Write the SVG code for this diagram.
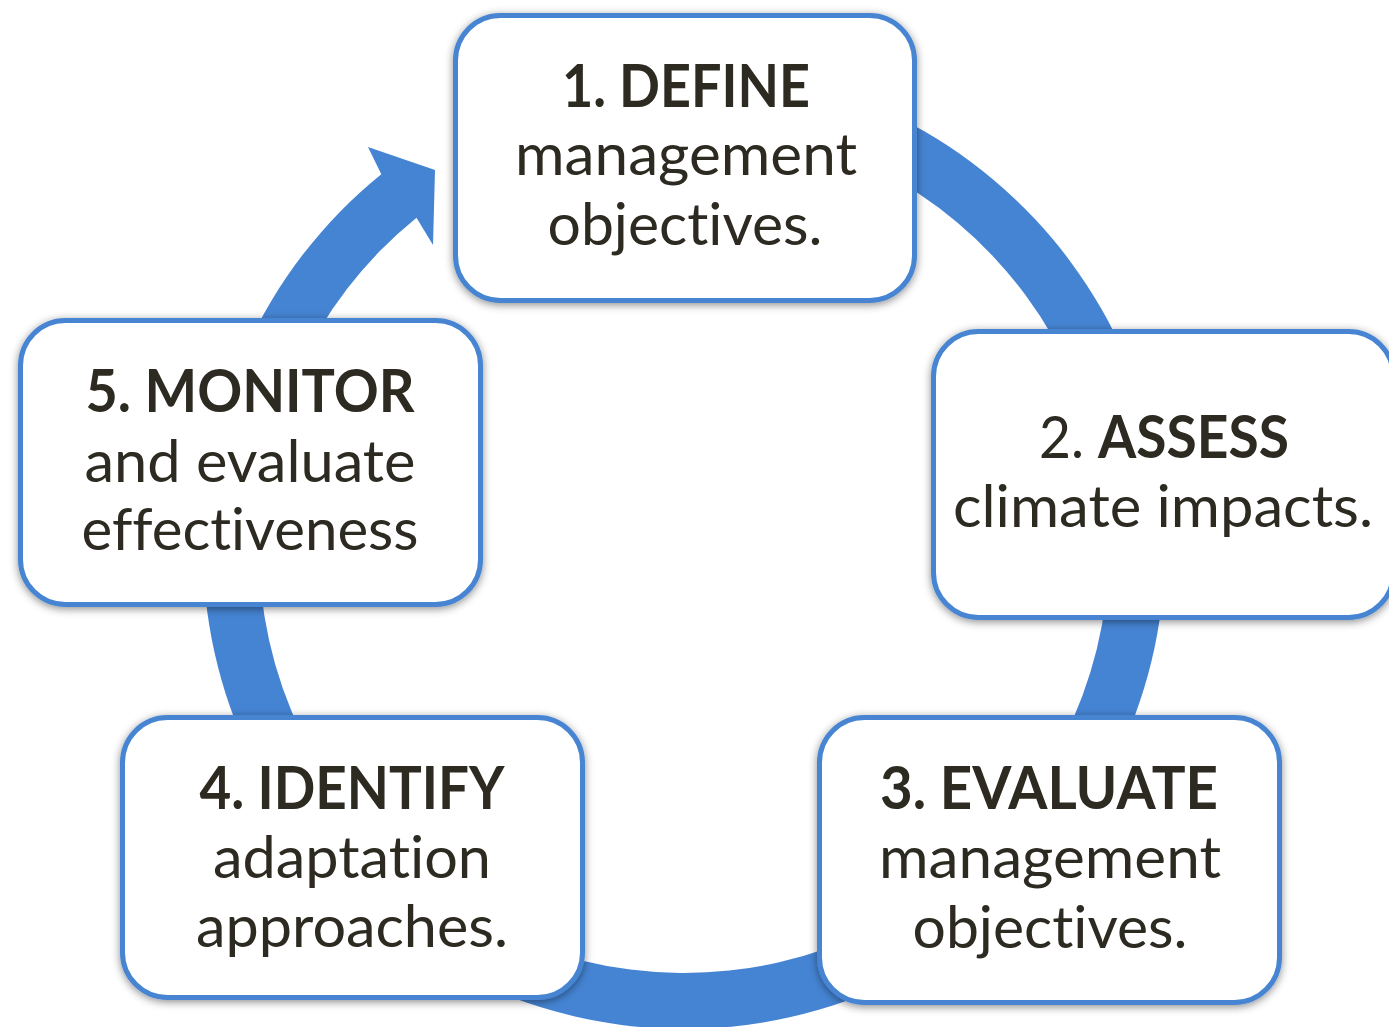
<svg xmlns="http://www.w3.org/2000/svg" width="1389" height="1027" viewBox="0 0 1389 1027">
<defs>
<filter id="sh" x="-10%" y="-10%" width="120%" height="125%">
<feDropShadow dx="0" dy="2" stdDeviation="4" flood-color="#000" flood-opacity="0.45"/>
</filter>
</defs>
<style>
.box{fill:#fff;stroke:#4685D3;stroke-width:5;filter:url(#sh)}
.ring{fill:#4584D3}
text{font-family:Lato,"Liberation Sans",sans-serif;fill:#2D2A21;text-anchor:middle;font-size:59px;font-variant-ligatures:none;font-feature-settings:"liga" 0,"clig" 0}
.b{font-weight:bold}
</style>
<rect width="1389" height="1027" fill="#fff"/>
<g id="connectors">
<path class="ring" d="M684,67 A481,481 0 1 1 381.3,174.2 L368,147 L435,170 L433,245 L416.5,217.7 A425,425 0 1 0 684,123 Z"/>
</g>
<g id="node1">
<rect class="box" x="455.5" y="15.5" width="459" height="285" rx="45"/>
<text class="b" x="686" y="107" textLength="248" lengthAdjust="spacingAndGlyphs">1. DEFINE</text>
<text x="686" y="175" textLength="342" lengthAdjust="spacingAndGlyphs">management</text>
<text x="685" y="245" textLength="275" lengthAdjust="spacingAndGlyphs">objectives.</text>
</g>
<g id="node2">
<rect class="box" x="933.5" y="331.5" width="460" height="286" rx="45"/>
<text x="1164" y="458" textLength="250" lengthAdjust="spacingAndGlyphs">2. <tspan class="b">ASSESS</tspan></text>
<text x="1163" y="527" textLength="420" lengthAdjust="spacingAndGlyphs">climate impacts.</text>
</g>
<g id="node3">
<rect class="box" x="819.5" y="717.5" width="460" height="285" rx="45"/>
<text class="b" x="1049" y="809" textLength="338" lengthAdjust="spacingAndGlyphs">3. EVALUATE</text>
<text x="1050" y="878" textLength="342" lengthAdjust="spacingAndGlyphs">management</text>
<text x="1050" y="948" textLength="275" lengthAdjust="spacingAndGlyphs">objectives.</text>
</g>
<g id="node4">
<rect class="box" x="122.5" y="717.5" width="460" height="280" rx="45"/>
<text class="b" x="352" y="809" textLength="305" lengthAdjust="spacingAndGlyphs">4. IDENTIFY</text>
<text x="352" y="878" textLength="278" lengthAdjust="spacingAndGlyphs">adaptation</text>
<text x="352" y="947" textLength="312" lengthAdjust="spacingAndGlyphs">approaches.</text>
</g>
<g id="node5">
<rect class="box" x="20.5" y="320.5" width="460" height="284" rx="45"/>
<text class="b" x="250" y="412" textLength="329" lengthAdjust="spacingAndGlyphs">5. MONITOR</text>
<text x="250" y="482" textLength="331" lengthAdjust="spacingAndGlyphs">and evaluate</text>
<text x="250" y="550" textLength="337" lengthAdjust="spacingAndGlyphs">effectiveness</text>
</g>
</svg>
